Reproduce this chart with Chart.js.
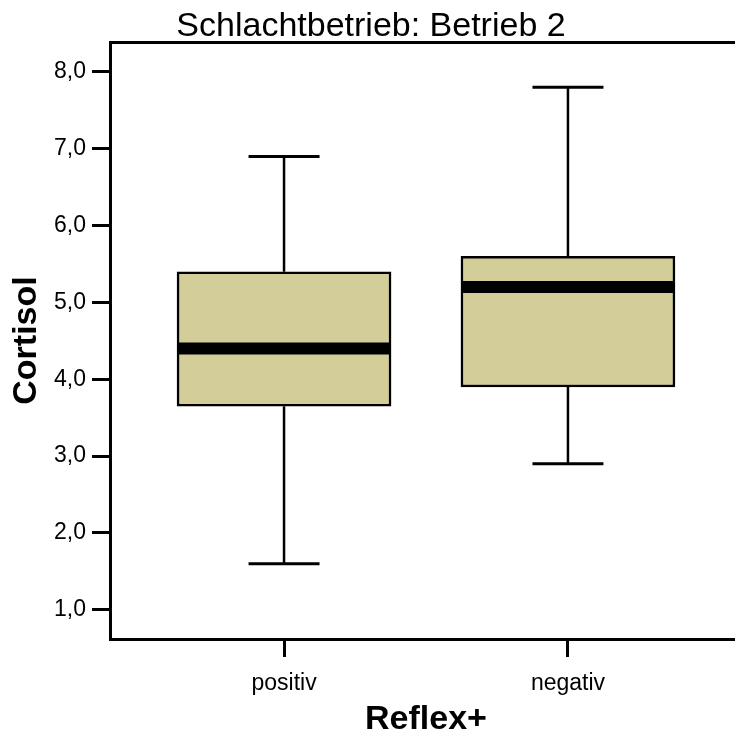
<!DOCTYPE html>
<html>
<head>
<meta charset="utf-8">
<script src="https://cdn.jsdelivr.net/npm/chart.js@4.4.1/dist/chart.umd.min.js"></script>
<style>
  html, body { margin: 0; padding: 0; background: #ffffff; overflow: hidden; width: 735px; height: 735px; }
  #wrap { width: 750px; height: 735px; }
</style>
</head>
<body>
<div id="wrap"><canvas id="c" width="750" height="735"></canvas></div>
<script>
// ---- data ----
const categories = ['positiv', 'negativ'];
const whiskerLow  = [1.6, 2.9];
const quart1      = [3.65, 3.9];
const medians     = [4.4, 5.2];
const quart3      = [5.4, 5.6];
const whiskerHigh = [6.9, 7.8];
const yTickValues = [1, 2, 3, 4, 5, 6, 7, 8];
const yTickLabels = ['1,0', '2,0', '3,0', '4,0', '5,0', '6,0', '7,0', '8,0'];
const titleText = 'Schlachtbetrieb: Betrieb 2';
const xTitle = 'Reflex+';
const yTitle = 'Cortisol';

// ---- build datasets ----
const CAP_HALF = 0.125;
const MED_HALF = 0.372;
const FONT = "'Liberation Sans', Arial, sans-serif";

const boxData = categories.map((c, i) => ({ x: i + 1, y: [quart1[i], quart3[i]] }));
const whiskerData = [];
const capData = [];
const medianData = [];
categories.forEach((c, i) => {
  const x = i + 1;
  whiskerData.push({ x: x, y: whiskerLow[i] }, { x: x, y: quart1[i] }, { x: x, y: null });
  whiskerData.push({ x: x, y: quart3[i] }, { x: x, y: whiskerHigh[i] }, { x: x, y: null });
  capData.push({ x: x - CAP_HALF, y: whiskerLow[i] }, { x: x + CAP_HALF, y: whiskerLow[i] }, { x: x, y: null });
  capData.push({ x: x - CAP_HALF, y: whiskerHigh[i] }, { x: x + CAP_HALF, y: whiskerHigh[i] }, { x: x, y: null });
  medianData.push({ x: x - MED_HALF, y: medians[i] }, { x: x + MED_HALF, y: medians[i] }, { x: x, y: null });
});

const lineBase = { type: 'line', pointRadius: 0, borderColor: '#000000', borderCapStyle: 'butt', spanGaps: false, fill: false, tension: 0 };

new Chart(document.getElementById('c'), {
  type: 'bar',
  data: {
    datasets: [
      Object.assign({}, lineBase, { label: 'Median', data: medianData, borderWidth: 12 }),
      Object.assign({}, lineBase, { label: 'Caps', data: capData, borderWidth: 3 }),
      Object.assign({}, lineBase, { label: 'Whiskers', data: whiskerData, borderWidth: 2.5 }),
      {
        type: 'bar', label: 'Box', data: boxData,
        backgroundColor: '#d3ce99', borderColor: '#000000', borderWidth: 2.5,
        borderSkipped: false, barThickness: 214
      }
    ]
  },
  options: {
    responsive: false,
    animation: false,
    devicePixelRatio: 1,
    layout: { padding: { left: 0, right: 8, top: 0, bottom: 0 } },
    plugins: {
      legend: { display: false },
      tooltip: { enabled: false },
      title: {
        display: true, text: titleText, color: '#000000',
        font: { family: FONT, size: 34, weight: 'normal', lineHeight: 1.0 },
        padding: { top: 10, bottom: -2 }
      }
    },
    scales: {
      x: {
        type: 'linear', position: 'bottom', min: 0.387, max: 2.613, offset: false,
        afterBuildTicks: (s) => { s.ticks = categories.map((c, i) => ({ value: i + 1 })); },
        afterFit: (s) => { s.height = 96; },
        ticks: {
          color: '#000000', padding: 13, maxRotation: 0, autoSkip: false,
          font: { family: FONT, size: 23 },
          callback: (v) => categories[Math.round(v) - 1]
        },
        grid: { display: true, offset: false, drawOnChartArea: false, tickLength: 18, tickWidth: 3, tickColor: '#000000' },
        border: { display: true, color: '#000000', width: 3 },
        title: {
          display: true, text: xTitle, color: '#000000',
          font: { family: FONT, size: 34, weight: 'bold', lineHeight: 1.0 },
          padding: { top: 0, bottom: -2 }
        }
      },
      x2: {
        type: 'linear', position: 'top', min: 0.387, max: 2.613, offset: false,
        afterFit: (s) => { s.height = 0; },
        ticks: { display: false },
        grid: { display: false },
        border: { display: true, color: '#000000', width: 3 }
      },
      y: {
        type: 'linear', position: 'left', min: 0.62, max: 8.39,
        afterBuildTicks: (s) => { s.ticks = yTickValues.map(v => ({ value: v })); },
        afterFit: (s) => { s.width = 110; },
        ticks: {
          color: '#000000', padding: 6,
          font: { family: FONT, size: 23 },
          callback: (v) => yTickLabels[yTickValues.indexOf(v)]
        },
        grid: { display: true, drawOnChartArea: false, tickLength: 18, tickWidth: 3, tickColor: '#000000' },
        border: { display: true, color: '#000000', width: 3 },
        title: {
          display: true, text: yTitle, color: '#000000',
          font: { family: FONT, size: 34, weight: 'bold', lineHeight: 1.0 },
          padding: { top: 10, bottom: 0 }
        }
      }
    }
  }
});
</script>
</body>
</html>
